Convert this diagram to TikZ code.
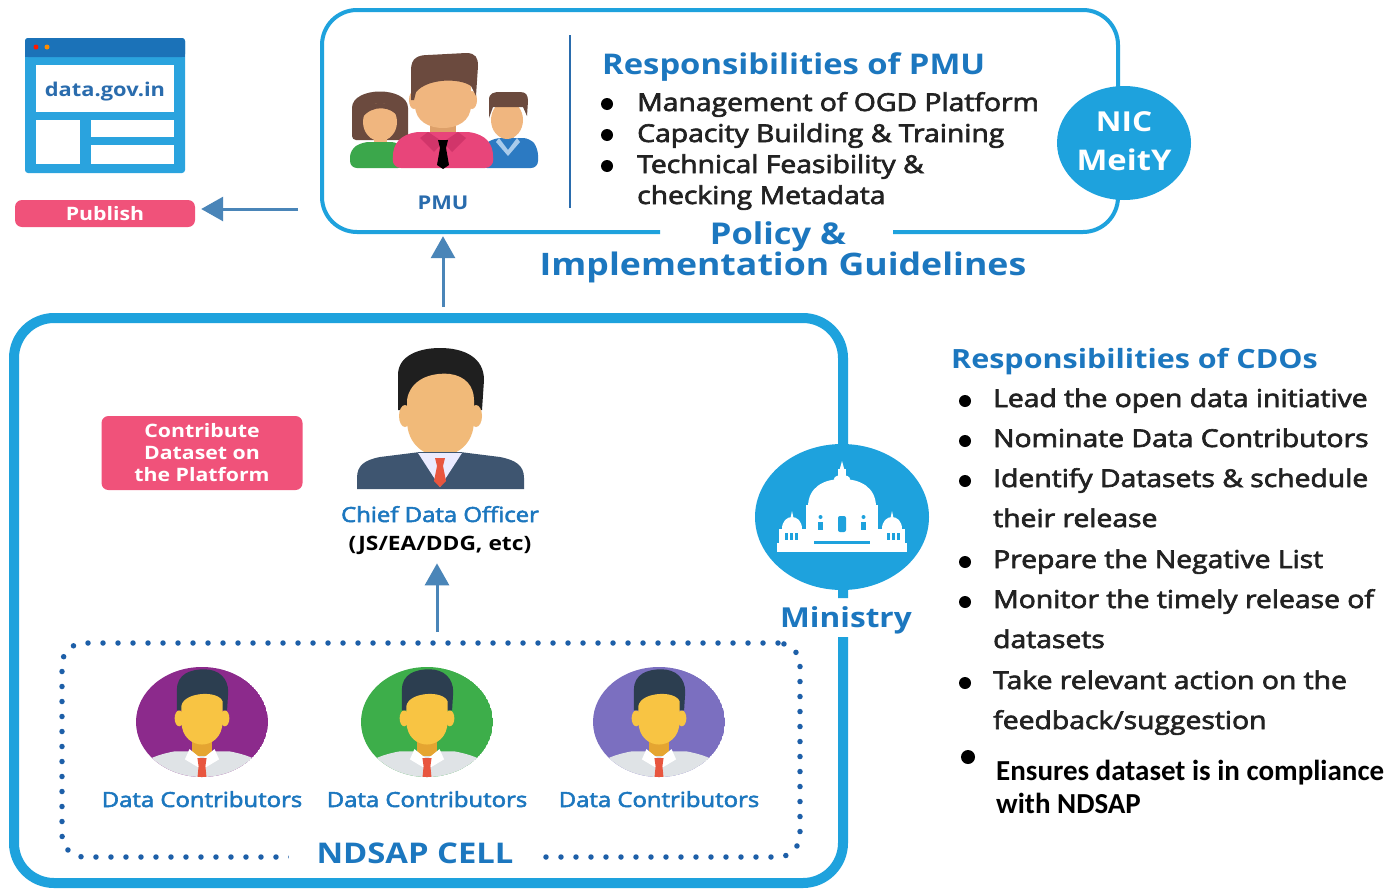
\documentclass[tikz,border=0pt]{standalone}
\usepackage{fontspec}
\usepackage{graphicx}
\setmainfont{Open Sans}
\newfontfamily\semi{Open Sans}[FakeBold=2.5]
\newfontfamily\calib{Carlito}
\usetikzlibrary{arrows.meta,shapes.geometric}

\definecolor{frameblue}{HTML}{1EA2DD}
\definecolor{headblue}{HTML}{1C77BF}
\definecolor{darkblue}{HTML}{2A6CAD}
\definecolor{arrowblue}{HTML}{4A85B8}
\definecolor{pinkred}{HTML}{F0527A}
\definecolor{bodytxt}{HTML}{222222}
\definecolor{dotblue}{HTML}{1D5FA8}
\definecolor{skin}{HTML}{F0B67F}
\definecolor{skindark}{HTML}{DDA06A}
\definecolor{hairbrown}{HTML}{6B4A3E}
\definecolor{shirtpink}{HTML}{E8457A}
\definecolor{collarpink}{HTML}{D1356A}
\definecolor{shirtgreen}{HTML}{3BA74B}
\definecolor{shirtblue}{HTML}{2C7AC2}
\definecolor{collarblue}{HTML}{A9CBEB}
\definecolor{suit}{HTML}{3E5570}
\definecolor{tiered}{HTML}{E8563F}
\definecolor{facey}{HTML}{F8C443}
\definecolor{necky}{HTML}{E5A531}
\definecolor{hairdark}{HTML}{2C3E50}
\definecolor{shirtgray}{HTML}{DFE3E6}
\definecolor{bgpurple}{HTML}{8C2A8C}
\definecolor{bggreen}{HTML}{3DAE4A}
\definecolor{bglav}{HTML}{7B6FC0}
\definecolor{winbar}{HTML}{1B72B8}
\definecolor{winbody}{HTML}{2AA3DE}

% horizontally widened lettering
\newcommand{\sx}[1]{\scalebox{1.15}[1]{#1}}
\newcommand{\fs}[1]{\fontsize{#1}{#1}\selectfont}

% one data contributor inside its coloured disc
\newcommand{\contributor}[3]{%
  \begin{scope}[shift={(#1,722)}]
    \clip (0,0) ellipse [x radius=66, y radius=55];
    \fill[#2] (0,0) ellipse [x radius=66, y radius=55];
    \begin{scope}[shift={(0,2)}, scale=1.14]
      \fill[shirtgray] (-62,60) -- (-62,50) .. controls (-60,36) and (-46,28) .. (-24,24) -- (24,24) .. controls (46,28) and (60,36) .. (62,50) -- (62,60) -- cycle;
      \fill[necky] (-9,8) rectangle (9,28);
      \fill[white] (-11,22) -- (0,31) -- (11,22) -- (15,31) -- (0,40) -- (-15,31) -- cycle;
      \fill[facey] (-20,-5) ellipse [x radius=4, y radius=7];
      \fill[facey] (20,-5) ellipse [x radius=4, y radius=7];
      \fill[hairdark] (-22,-12) -- (-22,-30) .. controls (-22,-44) and (-10,-48) .. (2,-48) .. controls (15,-48) and (23,-40) .. (23,-28) -- (22,-12) -- cycle;
      \fill[facey] (-18,-16) .. controls (-16,-28) and (14,-30) .. (18,-20) -- (18,-2) .. controls (18,12) and (8,18) .. (0,18) .. controls (-8,18) and (-18,12) .. (-18,-2) -- cycle;
      \fill[tiered] (-4,30) -- (4,30) -- (3,37) -- (-3,37) -- cycle;
      \fill[tiered] (-3,37) -- (3,37) -- (5,58) -- (-5,58) -- cycle;
    \end{scope}
  \end{scope}
  \node[dclabel] (#3) at (#1,807) {\sx{Data Contributors}};
}

\tikzset{
  ttl/.style={font=\bfseries\fs{27}, text=headblue, inner sep=0pt},
  itm/.style={font=\semi\fs{24.6}, text=bodytxt, anchor=base west, inner sep=0pt},
  bullet/.style={circle, fill=black, inner sep=0pt, minimum size=12pt},
  flow/.style={draw=arrowblue, line width=3pt, -{Triangle[length=22pt,width=24pt]}},
  pill/.style={fill=pinkred, text=white, font=\bfseries\fontsize{18.5}{22}\selectfont, rounded corners=7pt, inner sep=0pt, align=center},
  dclabel/.style={font=\semi\fs{20.8}, text=headblue, anchor=base, inner sep=0pt},
  bigblue/.style={font=\bfseries\fs{30}, text=headblue, anchor=base, inner sep=0pt},
}

\begin{document}
\begin{tikzpicture}[x=1pt, y=-1pt]
\useasboundingbox (0,0) rectangle (1391,889);
\fill[white] (0,0) rectangle (1391,889);

% ---------- data.gov.in portal window ----------
\fill[winbody, rounded corners=3pt] (25,38) rectangle (185,173);
\fill[winbar, rounded corners=3pt] (25,38) rectangle (185,57);
\fill[winbar] (25,50) rectangle (185,57);
\fill[red!80!orange] (36,47) circle (2.5);
\fill[orange!90!yellow] (47,47) circle (2.5);
\fill[white] (36,65) rectangle (174,112);
\fill[white] (36,120) rectangle (80,164);
\fill[white] (91,120) rectangle (174,137);
\fill[white] (91,145) rectangle (174,164);
\node[font=\bfseries\fs{19}, text=darkblue, anchor=base, inner sep=0pt] (portal) at (105,96) {\sx{data.gov.in}};

\node[pill, minimum width=180pt, minimum height=27pt] (publish) at (105,213.5) {\sx{Publish}};

% ---------- PMU panel ----------
\node[minimum width=796pt, minimum height=222pt, inner sep=0pt] (pmubox) at (720,121) {};
\draw[frameblue, line width=4pt, rounded corners=35pt]
  (660,232) -- (322,232) -- (322,10) -- (1118,10) -- (1118,232) -- (893,232);
\draw[darkblue, line width=1.5pt] (570,35) -- (570,208);

% PMU team figures
\fill[hairbrown, rounded corners=4pt] (352,140) -- (352,112) .. controls (352,86) and (408,86) .. (408,112) -- (408,140) -- cycle;
\fill[skin] (374,134) rectangle (387,148);
\fill[skin] (380,122) ellipse [x radius=17, y radius=19];
\fill[hairbrown] (362,118) .. controls (362,98) and (398,98) .. (399,118) .. controls (392,106) and (372,104) .. cycle;
\fill[shirtgreen, rounded corners=7pt] (350,168) -- (350,150) -- (362,142) -- (398,142) -- (405,150) -- (405,168) -- cycle;

\fill[skin] (501,132) rectangle (514,142);
\fill[shirtblue, rounded corners=7pt] (480,168) -- (482,146) -- (494,138) -- (530,138) -- (538,148) -- (538,168) -- cycle;
\fill[collarblue] (499,138) -- (508,150) -- (517,138) -- (520,142) -- (508,156) -- (496,142) -- cycle;
\fill[skin] (507,120) ellipse [x radius=16, y radius=19];
\fill[hairbrown] (489,118) -- (489,100) .. controls (489,93) and (494,92) .. (500,92) -- (520,92) .. controls (526,92) and (528,95) .. (528,101) -- (527,116) -- (523,107) -- (493,107) -- cycle;

\fill[skindark] (430,118) rectangle (456,138);
\fill[skin] (414,100) ellipse [x radius=5, y radius=9];
\fill[skin] (472,100) ellipse [x radius=5, y radius=9];
\fill[skin] (415,80) -- (415,105) .. controls (415,122) and (430,128) .. (443,128) .. controls (456,128) and (471,122) .. (471,105) -- (471,80) -- cycle;
\fill[hairbrown] (411,100) -- (411,70) .. controls (411,58) and (418,55) .. (428,55) -- (466,53) .. controls (476,53) and (478,58) .. (478,66) -- (476,96) -- (471,86) .. controls (460,78) and (428,78) .. (416,92) -- (414,100) -- cycle;
\fill[shirtpink, rounded corners=9pt] (392,168) -- (394,143) -- (410,132) -- (476,132) -- (492,143) -- (494,168) -- cycle;
\fill[collarpink] (428,132) -- (443,142) -- (434,152) -- (420,138) -- cycle;
\fill[collarpink] (458,132) -- (443,142) -- (452,152) -- (466,138) -- cycle;
\fill[black] (438,140) -- (448,140) -- (446,148) -- (440,148) -- cycle;
\fill[black] (440,148) -- (446,148) -- (449,165) -- (443,169) -- (437,165) -- cycle;
\node[font=\bfseries\fs{19}, text=darkblue, anchor=base, inner sep=0pt] (pmulabel) at (443,209) {\sx{PMU}};

% PMU responsibilities
\node[ttl, font=\bfseries\fs{28.5}, anchor=base west] (pmutitle) at (602,74) {\sx{Responsibilities of PMU}};
\node[bullet] (pb1) at (607,104) {};
\node[bullet] (pb2) at (607,135) {};
\node[bullet] (pb3) at (607,166) {};
\node[itm] (pi1) at (637,111) {\sx{Management of OGD Platform}};
\node[itm] (pi2) at (637,142) {\sx{Capacity Building \& Training}};
\node[itm] (pi3) at (637,173) {\sx{Technical Feasibility \&}};
\node[itm] (pi4) at (637,204) {\sx{checking Metadata}};

% NIC / MeitY badge
\node[ellipse, fill=frameblue, minimum width=134pt, minimum height=114pt, inner sep=0pt] (nic) at (1124,143) {};
\node[font=\bfseries\fs{27.5}, text=white, anchor=base, inner sep=0pt] (nictext) at (1124,131) {\sx{NIC}};
\node[font=\bfseries\fs{28.5}, text=white, anchor=base, inner sep=0pt] (meity) at (1124,170) {\sx{MeitY}};

\node[bigblue] (policy) at (778,244) {\sx{Policy \&}};
\node[bigblue, font=\bfseries\fs{31}] (guide) at (783,275) {\sx{Implementation Guidelines}};

% ---------- Ministry panel ----------
\draw[frameblue, line width=10pt, rounded corners=40pt]
  (843,598) -- (843,318) -- (14,318) -- (14,883) -- (843,883) -- (843,637);

\node[ellipse, fill=frameblue, minimum width=174pt, minimum height=146pt, inner sep=0pt] (ministry) at (842,517) {};
\begin{scope}[shift={(842,517)}]
  \fill[white] (0,-56) -- (2.5,-47) -- (-2.5,-47) -- cycle;
  \fill[white] (-4,-48) rectangle (4,-40);
  \fill[white] (0,-38) ellipse [x radius=8, y radius=4];
  \fill[white] (-34,-10) .. controls (-34,-30) and (-18,-38) .. (0,-38) .. controls (18,-38) and (34,-30) .. (34,-10) -- cycle;
  \fill[white] (-36,-12) rectangle (36,30);
  \fill[white] (-60,12) .. controls (-60,4) and (-55,0) .. (-50,0) .. controls (-45,0) and (-40,4) .. (-40,12) -- cycle;
  \fill[white] (-50,-6) -- (-48.5,1) -- (-51.5,1) -- cycle;
  \fill[white] (60,12) .. controls (60,4) and (55,0) .. (50,0) .. controls (45,0) and (40,4) .. (40,12) -- cycle;
  \fill[white] (50,-6) -- (48.5,1) -- (51.5,1) -- cycle;
  \fill[white] (-63,12) rectangle (-36,30);
  \fill[white] (36,12) rectangle (63,30);
  \fill[white] (-65,26) rectangle (65,35);
  \fill[frameblue, rounded corners=2pt] (-4,-1) rectangle (4,15);
  \fill[frameblue] (-24,5) rectangle (-19,13);
  \fill[frameblue] (-21.5,0) circle (2);
  \fill[frameblue] (19,5) rectangle (24,13);
  \fill[frameblue] (21.5,0) circle (2);
  \fill[frameblue] (-28,24) rectangle (28,26.5);
  \foreach \xx in {-57,-52,-47,45,50,55} {\fill[frameblue] (\xx,16) rectangle ({\xx+2.5},23);}
\end{scope}
\node[font=\bfseries\fs{27.5}, text=headblue, anchor=base, inner sep=0pt] (ministrylabel) at (846,627) {\sx{Ministry}};

% Chief Data Officer
\fill[black!88] (398,410) -- (398,375) .. controls (398,355) and (420,348) .. (440,348) .. controls (465,348) and (484,358) .. (484,380) -- (482,410) -- cycle;
\fill[skin!95!yellow] (405,416) ellipse [x radius=6, y radius=11];
\fill[skin!95!yellow] (476,416) ellipse [x radius=6, y radius=11];
\fill[skindark] (424,440) rectangle (457,466);
\fill[skin!95!yellow] (407,400) .. controls (410,380) and (430,372) .. (450,374) .. controls (465,376) and (474,386) .. (474,400) -- (474,420) .. controls (474,445) and (456,456) .. (440,456) .. controls (425,456) and (407,445) .. (407,420) -- cycle;
\fill[suit] (357,489) -- (357,478) .. controls (357,465) and (365,460) .. (380,457) -- (420,452) -- (460,452) -- (500,457) .. controls (515,460) and (524,465) .. (524,478) -- (524,489) -- cycle;
\fill[white!92!blue] (418,453) -- (462,453) -- (440,487) -- cycle;
\fill[tiered] (435,458) -- (445,458) -- (443,466) -- (437,466) -- cycle;
\fill[tiered] (437,466) -- (443,466) -- (446,481) -- (440,487) -- (434,481) -- cycle;
\node[font=\semi\fs{20.8}, text=headblue, anchor=base, inner sep=0pt] (cdoname) at (440,522) {\sx{Chief Data Officer}};
\node[font=\bfseries\fs{19.8}, text=black, anchor=base, inner sep=0pt] (cdorole) at (440,550) {\sx{(JS/EA/DDG, etc)}};

\node[pill, minimum width=201pt, minimum height=74pt] (contribute) at (202,453)
  {\sx{Contribute}\\\sx{Dataset on}\\\sx{the Platform}};

% NDSAP cell
\node[draw=dotblue, line width=5.5pt, dash pattern=on 0pt off 15pt, line cap=round,
      rounded corners=22pt, minimum width=738pt, minimum height=214pt] (ndsap) at (431,750) {};
\node[font=\bfseries\fs{28.5}, text=headblue, fill=white, anchor=base, inner xsep=28pt, inner ysep=4pt] (ndsaplabel) at (415,863) {\sx{NDSAP CELL}};

\contributor{202}{bgpurple}{dc1}
\contributor{427}{bggreen}{dc2}
\contributor{659}{bglav}{dc3}

% flows
\coordinate (pubtail) at (298,209);
\draw[flow, shorten >=6pt] (pubtail) -- (pubtail -| publish.east);
\coordinate (uptail) at (443,307);
\draw[flow, shorten >=4pt] (uptail) -- (uptail |- pmubox.south);
\coordinate (cdotail) at (437,632);
\draw[flow, shorten >=9pt] (cdotail) -- (cdotail |- cdorole.south);

% CDO responsibilities
\node[ttl, font=\bfseries\fs{26.5}, anchor=base west] (cdotitle) at (951,368) {\sx{Responsibilities of CDOs}};
\node[bullet] (cb1) at (965,401) {};
\node[bullet] (cb2) at (965,441) {};
\node[bullet] (cb3) at (965,481) {};
\node[bullet] (cb4) at (965,562) {};
\node[bullet] (cb5) at (965,602) {};
\node[bullet] (cb6) at (965,683) {};
\node[itm] (ci1) at (993,407) {\sx{Lead the open data initiative}};
\node[itm] (ci2) at (993,447) {\sx{Nominate Data Contributors}};
\node[itm] (ci3) at (993,487) {\sx{Identify Datasets \& schedule}};
\node[itm] (ci3b) at (993,527) {\sx{their release}};
\node[itm] (ci4) at (993,568) {\sx{Prepare the Negative List}};
\node[itm] (ci5) at (993,608) {\sx{Monitor the timely release of}};
\node[itm] (ci5b) at (993,648) {\sx{datasets}};
\node[itm] (ci6) at (993,689) {\sx{Take relevant action on the}};
\node[itm] (ci6b) at (993,729) {\sx{feedback/suggestion}};
\node[bullet, minimum size=14pt] (cb7) at (968,757) {};
\node[font=\calib\bfseries\fs{29}, text=black, anchor=base west, inner sep=0pt] (ci7) at (996,780) {Ensures dataset is in compliance};
\node[font=\calib\bfseries\fs{29}, text=black, anchor=base west, inner sep=0pt] (ci7b) at (996,813) {with NDSAP};
\end{tikzpicture}
\end{document}
